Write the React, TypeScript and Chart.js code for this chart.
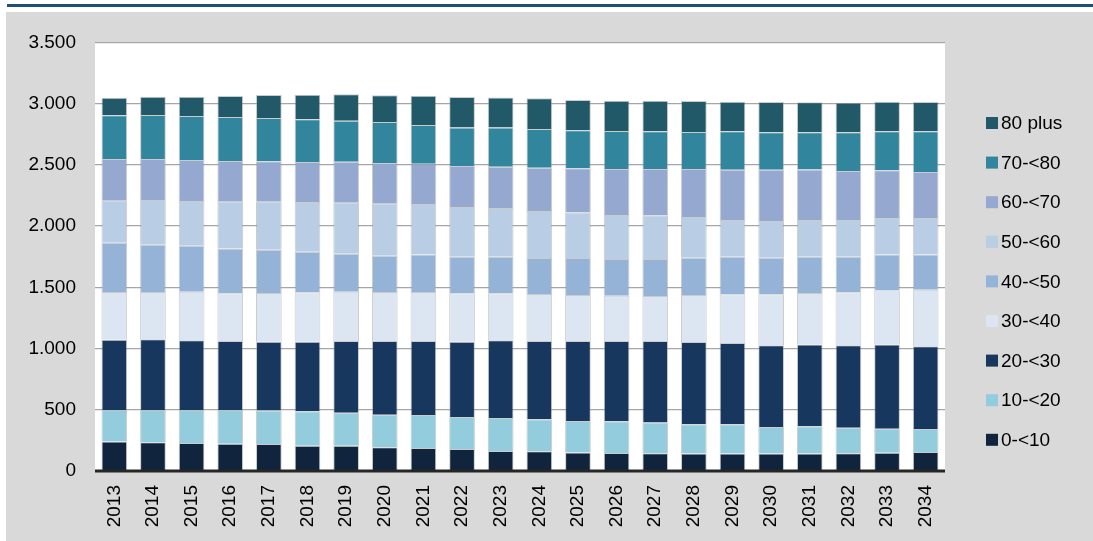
import React, { useEffect, useRef } from "react";
import { Chart, registerables } from "chart.js";

Chart.register(...registerables);

const years = ["2013","2014","2015","2016","2017","2018","2019","2020","2021","2022","2023","2024","2025","2026","2027","2028","2029","2030","2031","2032","2033","2034"];

const age0_10 = [240,234,229,223,220,207,207,193,188,180,163,161,152,147,144,142,142,142,142,144,150,155];
const age10_20 = [258,264,269,275,275,280,269,267,269,261,270,261,256,259,253,239,239,217,223,210,196,188];
const age20_30 = [574,577,569,564,561,569,586,602,605,615,634,640,654,656,665,672,664,667,669,672,688,675];
const age30_40 = [389,387,397,389,398,403,402,400,400,395,384,383,375,370,367,384,398,417,420,433,441,463];
const age40_50 = [403,386,376,365,353,332,311,296,305,299,299,294,302,299,302,305,307,299,296,291,292,286];
const age50_60 = [343,365,365,383,392,406,416,425,413,406,398,384,371,360,357,332,300,300,300,300,299,299];
const age60_70 = [340,335,335,332,330,326,335,332,330,335,337,354,362,375,378,392,411,419,413,400,389,376];
const age70_80 = [359,359,359,360,354,349,335,335,315,315,321,316,310,310,308,302,313,305,303,316,319,332];
const age80plus = [142,150,158,171,187,201,215,218,240,248,245,250,248,248,250,253,242,247,245,242,242,239];

const seriesLabels = ["0-<10","10-<20","20-<30","30-<40","40-<50","50-<60","60-<70","70-<80","80 plus"];
const seriesData = [age0_10, age10_20, age20_30, age30_40, age40_50, age50_60, age60_70, age70_80, age80plus];
const seriesColors = ["#10243E","#93CDDD","#17375E","#DCE6F2","#95B3D7","#B9CDE5","#95A9D0","#31859C","#215968"];

const yMax = 3500;
const yStep = 500;

const FONT = "'Liberation Sans', Arial, sans-serif";

function fmt(v: number): string {
  return String(Math.round(v)).replace(/\B(?=(\d{3})+(?!\d))/g, ".");
}

export default function App() {
  const ref = useRef<HTMLCanvasElement | null>(null);

  useEffect(() => {
    if (!ref.current) return;

    const bgPlugin = {
      id: "plotBg",
      beforeDraw(chart: any) {
        const { ctx, chartArea } = chart;
        ctx.save();
        ctx.fillStyle = "#ffffff";
        ctx.fillRect(chartArea.left, chartArea.top, chartArea.right - chartArea.left, chartArea.bottom - chartArea.top);
        ctx.restore();
      },
      afterDatasetsDraw(chart: any) {
        const { ctx, chartArea, scales } = chart;
        const y0 = scales.y.getPixelForValue(0);
        ctx.save();
        ctx.strokeStyle = "#262626";
        ctx.lineWidth = 3;
        ctx.beginPath();
        ctx.moveTo(chartArea.left, y0);
        ctx.lineTo(chartArea.right, y0);
        ctx.stroke();
        ctx.restore();
      },
      afterDraw(chart: any) {
        const { ctx } = chart;
        const ds = chart.data.datasets;
        ctx.save();
        ctx.font = `19px ${FONT}`;
        ctx.textBaseline = "middle";
        ctx.textAlign = "left";
        const boxX = 980;
        const textX = 995;
        const startY = 111;
        const step = 39.6;
        for (let i = ds.length - 1, k = 0; i >= 0; i--, k++) {
          const cy = startY + k * step;
          ctx.fillStyle = ds[i].backgroundColor;
          ctx.fillRect(boxX, cy - 6, 12, 12);
          ctx.fillStyle = "#000000";
          ctx.fillText(ds[i].label, textX, cy + 1);
        }
        ctx.restore();
      },
    };

    const chart = new Chart(ref.current, {
      type: "bar",
      data: {
        labels: years,
        datasets: seriesData.map((d, i) => ({
          label: seriesLabels[i],
          data: d,
          backgroundColor: seriesColors[i],
          borderColor: "rgba(140,140,140,0.45)",
          borderWidth: 1,
          barPercentage: 0.665,
          categoryPercentage: 1,
        })),
      },
      options: {
        responsive: false,
        maintainAspectRatio: false,
        animation: false,
        layout: { padding: { left: 0, right: 148, top: 29, bottom: 0 } },
        plugins: {
          legend: { display: false },
          tooltip: { enabled: false },
        },
        scales: {
          x: {
            stacked: true,
            grid: { display: false, drawTicks: false },
            border: { display: false },
            ticks: {
              color: "#000000",
              font: { family: FONT, size: 19 },
              maxRotation: 90,
              minRotation: 90,
              padding: 14,
              autoSkip: false,
            },
            afterFit(scale: any) {
              scale.height = 70;
            },
          },
          y: {
            stacked: true,
            min: 0,
            max: yMax,
            grid: { color: "#a6a6a6", lineWidth: 1.3, drawTicks: false },
            border: { display: false },
            ticks: {
              stepSize: yStep,
              color: "#000000",
              font: { family: FONT, size: 19 },
              padding: 19,
              callback: (v: any) => fmt(Number(v)),
            },
            afterFit(scale: any) {
              scale.width = 89;
            },
          },
        },
      },
      plugins: [bgPlugin],
    });

    return () => chart.destroy();
  }, []);

  return (
    <div style={{ position: "fixed", left: 0, top: 0, width: 1093, height: 541, background: "#ffffff", overflow: "hidden" }}>
      <div style={{ position: "absolute", left: 7, right: 0, top: 4, height: 3, background: "#1F4E79" }} />
      <div style={{ position: "absolute", left: 6, right: 0, top: 12, bottom: 0, background: "#D9D9D9" }}>
        <canvas ref={ref} width={1087} height={529} style={{ display: "block", width: 1087, height: 529 }} />
      </div>
    </div>
  );
}
